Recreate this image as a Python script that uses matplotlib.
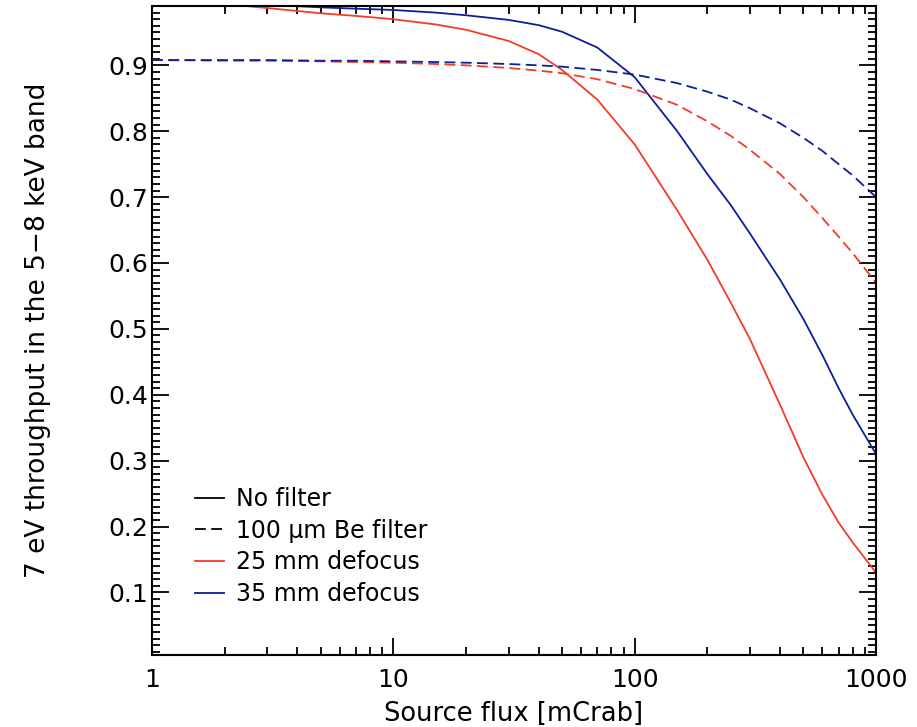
import matplotlib
matplotlib.use('Agg')
import matplotlib.pyplot as plt
from matplotlib.ticker import MultipleLocator, LogLocator, FixedLocator
from matplotlib.lines import Line2D

# source flux [mCrab]
flux = [1, 2, 3, 5, 7, 10, 15, 20, 30, 40, 50, 70, 100, 150, 200, 250, 300, 400, 500, 600, 700, 800, 1000]

# 7 eV throughput, 5-8 keV band
red_nofilter = [0.998, 0.993, 0.987, 0.979, 0.975, 0.97, 0.962, 0.954, 0.937, 0.917, 0.893, 0.848, 0.78,
                0.68, 0.605, 0.54, 0.485, 0.385, 0.305, 0.248, 0.206, 0.176, 0.13]
blue_nofilter = [0.998, 0.995, 0.992, 0.988, 0.986, 0.984, 0.98, 0.976, 0.969, 0.961, 0.951, 0.927, 0.882,
                 0.80, 0.735, 0.688, 0.645, 0.575, 0.515, 0.46, 0.41, 0.37, 0.31]
red_befilter = [0.908, 0.907, 0.907, 0.906, 0.905, 0.904, 0.902, 0.9, 0.896, 0.892, 0.888, 0.879, 0.864,
                0.84, 0.815, 0.793, 0.772, 0.735, 0.70, 0.668, 0.64, 0.615, 0.57]
blue_befilter = [0.908, 0.908, 0.908, 0.907, 0.907, 0.906, 0.905, 0.904, 0.902, 0.9, 0.898, 0.893, 0.886,
                 0.873, 0.86, 0.848, 0.835, 0.812, 0.79, 0.77, 0.75, 0.733, 0.70]

red = '#f23c28'
blue = '#0c1e9c'

plt.rcParams['font.family'] = 'DejaVu Sans'
fig = plt.figure(figsize=(9.17, 7.27), dpi=100)
ax = fig.add_axes([0.1658, 0.099, 0.7895, 0.8927])

dash = (0, (6, 3))
ax.plot(flux, red_nofilter, color=red, lw=1.3)
ax.plot(flux, blue_nofilter, color=blue, lw=1.3)
ax.plot(flux, red_befilter, color=red, lw=1.3, ls=dash)
ax.plot(flux, blue_befilter, color=blue, lw=1.3, ls=dash)

ax.set_xscale('log')
ax.set_xlim(1, 1000)
ax.set_ylim(0.005, 0.99)
ax.set_xticks([1, 10, 100, 1000])
ax.set_xticklabels(['1', '10', '100', '1000'])
ax.xaxis.set_minor_locator(LogLocator(base=10, subs=range(2, 10)))
ax.yaxis.set_major_locator(FixedLocator([0.1, 0.2, 0.3, 0.4, 0.5, 0.6, 0.7, 0.8, 0.9]))
ax.yaxis.set_minor_locator(MultipleLocator(0.01))

ax.tick_params(which='both', direction='in', top=True, right=True, labelsize=18, width=1.3)
ax.tick_params(which='major', length=12)
ax.tick_params(which='minor', length=6)
ax.tick_params(axis='x', which='major', pad=9)
ax.tick_params(axis='y', which='major', pad=3)
for s in ax.spines.values():
    s.set_linewidth(1.5)

ax.set_xlabel('Source flux [mCrab]', fontsize=18.5, labelpad=7)
ax.set_ylabel('7 eV throughput in the 5\u22128 keV band', fontsize=19, labelpad=41)

handles = [Line2D([], [], color='black', lw=1.3),
           Line2D([], [], color='black', lw=1.3, ls=dash),
           Line2D([], [], color=red, lw=1.3),
           Line2D([], [], color=blue, lw=1.3)]
labels = ['No filter', '100 \u03bcm Be filter', '25 mm defocus', '35 mm defocus']
ax.legend(handles, labels, loc='lower left', bbox_to_anchor=(0.043, 0.057), frameon=False,
          fontsize=17, handlelength=1.25, handletextpad=0.5, labelspacing=0.33, borderpad=0)

fig.savefig('out.png', dpi=100)
